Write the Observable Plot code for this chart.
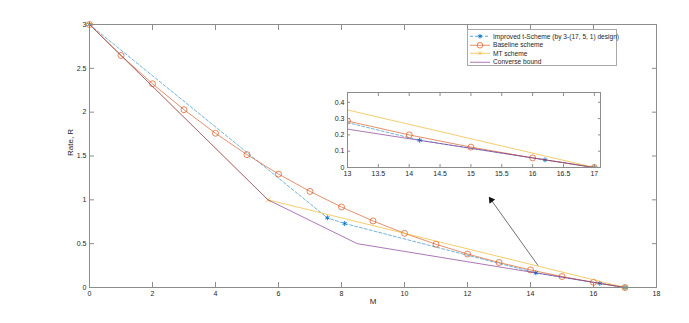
<!DOCTYPE html>
<html><head><meta charset="utf-8">
<script src="https://cdn.jsdelivr.net/npm/d3@7"></script>
<script src="https://cdn.jsdelivr.net/npm/@observablehq/plot@0.6"></script>
<style>
html,body{margin:0;padding:0;background:#fff;}
#wrap{position:relative;width:689px;height:323px;overflow:hidden;font-family:"Liberation Sans",Arial,sans-serif;}
#wrap > svg, #wrap > div{position:absolute;}
.legend{left:467px;top:29px;width:150px;height:37px;border:1px solid #a8a8a8;background:#fff;box-sizing:border-box;padding-top:2px;}
.legend .row{display:flex;align-items:center;height:8.5px;font-size:6.6px;color:#262626;white-space:nowrap;}
.legend svg{margin-left:1px;margin-right:2px;flex:none;}
</style></head><body><div id="wrap"></div><script>
// ---- data ----
const improvedM = [0, 7.55, 8.1, 14.17, 16.2, 17];
const improvedR = [3, 0.795, 0.73, 0.167, 0.047, 0];
const baselineM = [0, 1, 2, 3, 4, 5, 6, 7, 8, 9, 10, 11, 12, 13, 14, 15, 16, 17];
const baselineR = [3, 2.647, 2.324, 2.028, 1.759, 1.515, 1.294, 1.096, 0.918, 0.759, 0.618, 0.493, 0.382, 0.285, 0.2, 0.125, 0.059, 0];
const mtM = [0, 5.667, 17];
const mtR = [3, 1, 0];
const converseM = [0, 5.667, 8.5, 17];
const converseR = [3, 1, 0.5, 0];
const mainXTicks = [0, 2, 4, 6, 8, 10, 12, 14, 16, 18];
const mainYTicks = [0, 0.5, 1, 1.5, 2, 2.5, 3];
const insetXTicks = [13, 13.5, 14, 14.5, 15, 15.5, 16, 16.5, 17];
const insetYTicks = [0, 0.1, 0.2, 0.3, 0.4];
const seriesNames = ["Improved t-Scheme (by 3-(17, 5, 1) design)", "Baseline scheme", "MT scheme", "Converse bound"];
const seriesColors = ["#0072BD", "#D95319", "#EDB120", "#7E2F8E"];
const arrowFrom = [14.24, 0.251];
const arrowTo = [12.71, 1.019];

// ---- build ----
const rows = (ms, rs) => ms.map((m, i) => ({M: m, R: rs[i]}));
const imp = rows(improvedM, improvedR), base = rows(baselineM, baselineR);
const mt = rows(mtM, mtR), conv = rows(converseM, converseR);
const [cBlue, cOrange, cYellow, cPurple] = seriesColors;
const axisColor = "#8c8c8c", textColor = "#262626";
const font = "Liberation Sans, Arial, sans-serif";
const fmt = d => String(d);
const lw = 0.65;

function seriesMarks(clip) {
  return [
    Plot.line(imp, {x: "M", y: "R", stroke: cBlue, strokeWidth: lw, strokeDasharray: "3,2", strokeOpacity: 0.85, clip}),
    Plot.dot(imp, {x: "M", y: "R", symbol: "asterisk", r: 2.3, stroke: cBlue, strokeWidth: 0.9, clip}),
    Plot.line(base, {x: "M", y: "R", stroke: cOrange, strokeWidth: lw, clip}),
    Plot.dot(base, {x: "M", y: "R", r: 3, stroke: cOrange, fill: "none", strokeWidth: 0.7, clip}),
    Plot.line(mt, {x: "M", y: "R", stroke: cYellow, strokeWidth: lw, clip}),
    Plot.dot(mt, {x: "M", y: "R", symbol: "times", r: 2.5, stroke: cYellow, strokeWidth: 0.7, clip}),
    Plot.line(conv, {x: "M", y: "R", stroke: cPurple, strokeWidth: lw, clip})
  ];
}
function tickMarks(xt, yt, size) {
  const common = {stroke: axisColor, tickSize: size, tickFormat: () => ""};
  return [
    Plot.axisX(xt, {...common, anchor: "bottom", dy: -size}),
    Plot.axisX(xt, {...common, anchor: "top", dy: size}),
    Plot.axisY(yt, {...common, anchor: "left", dx: size}),
    Plot.axisY(yt, {...common, anchor: "right", dx: -size}),
    Plot.axisX(xt, {anchor: "bottom", tickSize: 0, tickPadding: 4, tickFormat: fmt, fill: textColor}),
    Plot.axisY(yt, {anchor: "left", tickSize: 0, tickPadding: 3, tickFormat: fmt, fill: textColor})
  ];
}

const W = 689, H = 323, ml = 89, mr = 33, mtp = 24, mb = 36;
const pxX = (W - ml - mr) / 18, pxY = (H - mtp - mb) / 3;
const dxp = (arrowTo[0] - arrowFrom[0]) * pxX, dyp = -(arrowTo[1] - arrowFrom[1]) * pxY;
const len = Math.hypot(dxp, dyp), ux = dxp / len, uy = dyp / len;
const theta = Math.atan2(dxp, -dyp) * 180 / Math.PI;
const arrowRow = [{x1: arrowFrom[0], y1: arrowFrom[1], x2: arrowTo[0], y2: arrowTo[1]}];

const main = Plot.plot({
  width: W, height: H, marginLeft: ml, marginRight: mr, marginTop: mtp, marginBottom: mb,
  x: {domain: [0, 18], label: null},
  y: {domain: [0, 3], label: null},
  style: {fontFamily: font, fontSize: "7px", color: textColor, background: "white"},
  marks: [
    ...seriesMarks(false),
    Plot.link(arrowRow, {x1: "x1", y1: "y1", x2: "x2", y2: "y2", stroke: "#333", strokeWidth: 0.7}),
    Plot.dot(arrowRow, {x: "x2", y: "y2", symbol: "triangle", r: 2.6, fill: "#111", stroke: "none", rotate: theta, dx: -ux * 2.2, dy: -uy * 2.2}),
    Plot.frame({stroke: axisColor}),
    ...tickMarks(mainXTicks, mainYTicks, 5),
    Plot.text(["M"], {frameAnchor: "bottom", dy: 16, fontSize: 8, fill: textColor}),
    Plot.text(["Rate, R"], {frameAnchor: "left", rotate: -90, dx: -19, fontSize: 8, fill: textColor})
  ]
});

const iml = 20, imr = 4, imt = 4, imb = 14;
const inset = Plot.plot({
  width: 253 + iml + imr, height: 75 + imt + imb,
  marginLeft: iml, marginRight: imr, marginTop: imt, marginBottom: imb,
  x: {domain: [13, 17.1], label: null},
  y: {domain: [0, 0.46], label: null},
  style: {fontFamily: font, fontSize: "7px", color: textColor, background: "transparent"},
  marks: [
    Plot.frame({fill: "white"}),
    ...seriesMarks(true),
    Plot.frame({stroke: axisColor}),
    ...tickMarks(insetXTicks, insetYTicks, 3)
  ]
});
inset.style.left = (347 - iml) + "px";
inset.style.top = (92 - imt) + "px";

const wrap = document.getElementById("wrap");
main.style.left = "0px"; main.style.top = "0px";
wrap.appendChild(main);
wrap.appendChild(inset);

// legend
const legend = document.createElement("div");
legend.className = "legend";
const swatch = [
  `<line x1="1" y1="4.25" x2="21" y2="4.25" stroke="${cBlue}" stroke-width="0.65" stroke-dasharray="3,2"/><path d="M11,2V6.5M9,3.1L13,5.4M9,5.4L13,3.1" stroke="${cBlue}" stroke-width="0.9"/>`,
  `<line x1="1" y1="4.25" x2="21" y2="4.25" stroke="${cOrange}" stroke-width="0.65"/><circle cx="11" cy="4.25" r="2.8" fill="none" stroke="${cOrange}" stroke-width="0.7"/>`,
  `<line x1="1" y1="4.25" x2="21" y2="4.25" stroke="${cYellow}" stroke-width="0.65"/><path d="M9.2,2.45L12.8,6.05M9.2,6.05L12.8,2.45" stroke="${cYellow}" stroke-width="0.7"/>`,
  `<line x1="1" y1="4.25" x2="21" y2="4.25" stroke="${cPurple}" stroke-width="0.65"/>`
];
seriesNames.forEach((name, i) => {
  const row = document.createElement("div");
  row.className = "row";
  row.innerHTML = `<svg width="22" height="8.5">${swatch[i]}</svg><span>${name}</span>`;
  legend.appendChild(row);
});
wrap.appendChild(legend);
</script></body></html>
